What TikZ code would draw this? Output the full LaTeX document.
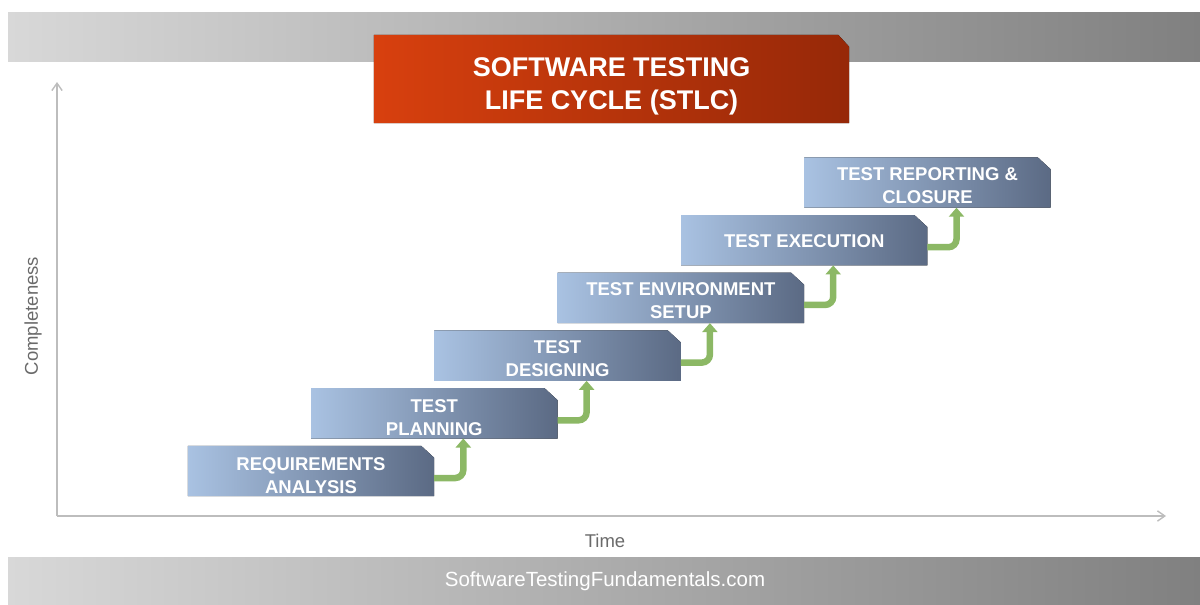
\documentclass[tikz,border=0pt]{standalone}
\usepackage{fontspec}
\setmainfont{Liberation Sans}
\usetikzlibrary{arrows.meta}
\usetikzlibrary{positioning}

\definecolor{barlight}{HTML}{D8D8D8}
\definecolor{bardark}{HTML}{808080}
\definecolor{titlelight}{HTML}{D8400E}
\definecolor{titledark}{HTML}{962808}
\definecolor{boxlight}{HTML}{A9C2E2}
\definecolor{boxdark}{HTML}{5B6A84}
\definecolor{stepgreen}{HTML}{8CB865}
\definecolor{axisgray}{HTML}{BDBDBD}
\definecolor{labelgray}{HTML}{6A6A6A}

\tikzset{
    stagebox/.style={rectangle, minimum width=246pt, minimum height=50pt, inner sep=0pt},
    stagefill/.style={left color=boxlight, right color=boxdark},
    stagetext/.style={text=white, align=center, inner sep=0pt,
        font=\bfseries\fontsize{18.5}{23}\selectfont},
    steparrow/.style={stepgreen, line width=6.5pt, rounded corners=8pt,
        -{Triangle[width=15pt,length=9pt]}},
    axisline/.style={axisgray, line width=1.4pt, -{Straight Barb[angle=70:9pt]}}
}

\begin{document}
\begin{tikzpicture}[x=1pt, y=-1pt]
    \useasboundingbox (0,0) rectangle (1200,605);

    % Top and bottom bars
    \fill[left color=barlight, right color=bardark] (8,12) rectangle (1200,61);
    \fill[left color=barlight, right color=bardark] (8,557) rectangle (1200,605);
    \node[text=white, font=\fontsize{20.5}{24}\selectfont] (site) at (605,581) {SoftwareTestingFundamentals.com};

    % Title
    \node[rectangle, minimum width=475pt, minimum height=88pt, inner sep=0pt] (title) at (611.5,79) {};
    \fill[left color=titlelight, right color=titledark] (title.south west) -- (title.north west)
        -- ([xshift=-11pt]title.north east) -- ([yshift=-12pt]title.north east) -- (title.south east) -- cycle;
    \node[text=white, align=center, font=\bfseries\fontsize{27}{33}\selectfont]
        (titletext) at ([yshift=-7pt]title.center) {SOFTWARE TESTING\\LIFE CYCLE (STLC)};

    % Draw the axes
    \coordinate (origin) at (57,516);
    \coordinate (ytop) at (57,82);
    \coordinate (xend) at (1166,516);
    \draw[axisline] (origin) -- (ytop);
    \draw[axisline] (origin) -- (xend);
    \node[rotate=90, text=labelgray, font=\fontsize{18.5}{22}\selectfont] (ylabel) at (33,316) {Completeness};
    \node[text=labelgray, font=\fontsize{18.5}{22}\selectfont] (xlabel) at (605,541) {Time};

    % Stages
    \foreach \i/\t/\d in {1/{REQUIREMENTS\\ANALYSIS}/4.5, 2/{TEST\\PLANNING}/4.5, 3/{TEST\\DESIGNING}/3,
        4/{TEST ENVIRONMENT\\SETUP}/3, 5/{TEST EXECUTION}/0.5, 6/{TEST REPORTING \&\\CLOSURE}/3} {
        \node[stagebox] (s\i) at ({311+123.3*(\i-1)},{471-57.7*(\i-1)}) {};
        \fill[stagefill] (s\i.south west) -- (s\i.north west) -- ([xshift=-13pt]s\i.north east)
            -- ([yshift=-12pt]s\i.north east) -- (s\i.south east) -- cycle;
        \node[stagetext] (t\i) at ([yshift=-\d pt]s\i.center) {\t};
    }

    % Arrows between stages
    \foreach \i in {1,...,5} {
        \pgfmathtruncatemacro\j{\i+1}
        \draw[steparrow] ([yshift=-7pt]s\i.east) -| ([xshift=29pt]s\j.south);
    }

\end{tikzpicture}
\end{document}
